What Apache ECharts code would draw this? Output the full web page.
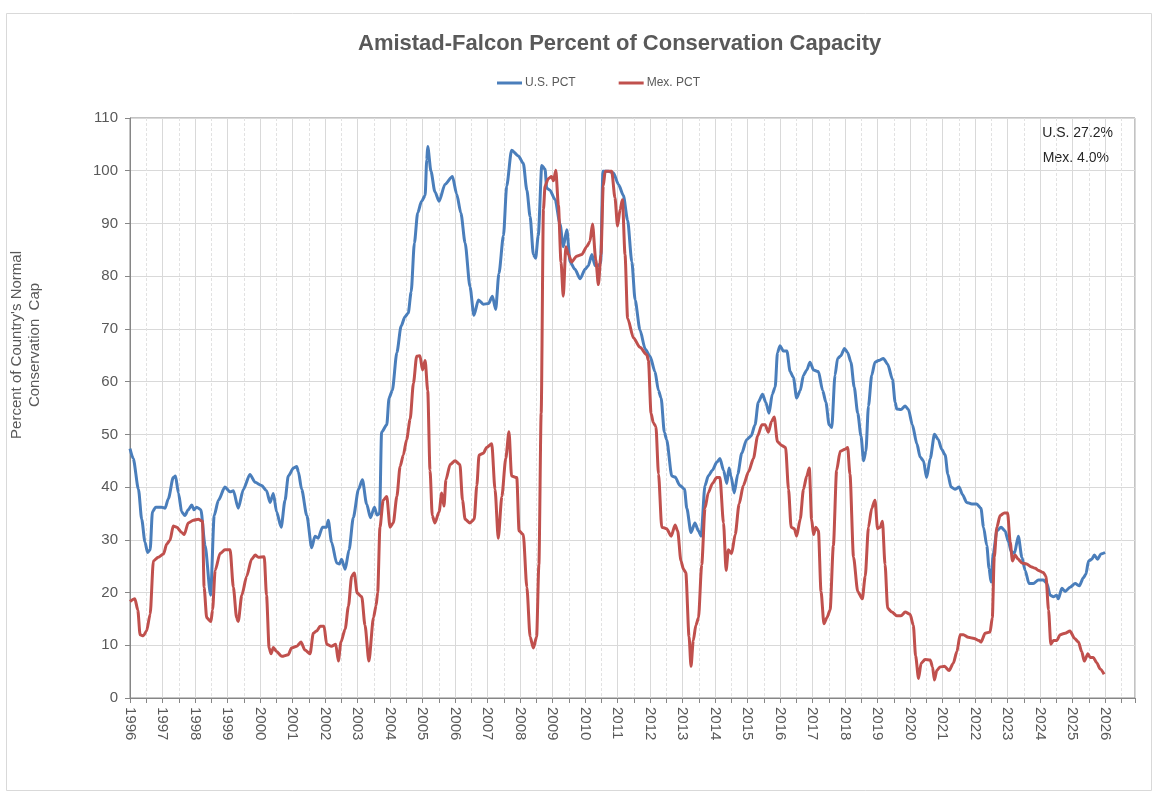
<!DOCTYPE html>
<html>
<head>
<meta charset="utf-8">
<script src="https://cdn.jsdelivr.net/npm/echarts@6/dist/echarts.min.js"></script>
<style>
html,body{margin:0;padding:0;background:#fff;}
#chart{width:1159px;height:796px;}
</style>
</head>
<body>
<div id="chart"></div>
<script>
// ---- Data (decimal year, percent) ----
var usYears = [1996.0,1996.1,1996.26,1996.36,1996.46,1996.54,1996.62,1996.69,1996.79,1996.97,1997.08,1997.18,1997.33,1997.4,1997.49,1997.59,1997.69,1997.79,1997.9,1997.97,1998.05,1998.18,1998.31,1998.48,1998.59,1998.72,1998.92,1999.08,1999.18,1999.33,1999.49,1999.69,1999.85,2000.05,2000.2,2000.31,2000.41,2000.51,2000.65,2000.77,2000.87,2001.03,2001.13,2001.18,2001.28,2001.44,2001.59,2001.69,2001.79,2001.92,2002.05,2002.1,2002.2,2002.36,2002.44,2002.51,2002.62,2002.74,2002.87,2003.03,2003.15,2003.28,2003.4,2003.52,2003.6,2003.68,2003.74,2003.9,2003.97,2004.07,2004.21,2004.34,2004.46,2004.56,2004.65,2004.75,2004.85,2004.97,2005.08,2005.13,2005.16,2005.26,2005.38,2005.51,2005.69,2005.92,2006.05,2006.18,2006.31,2006.46,2006.58,2006.72,2006.87,2007.03,2007.15,2007.25,2007.35,2007.49,2007.59,2007.74,2007.95,2008.1,2008.21,2008.31,2008.41,2008.48,2008.56,2008.67,2008.77,2008.82,2008.92,2009.08,2009.23,2009.33,2009.44,2009.54,2009.69,2009.85,2010.0,2010.1,2010.21,2010.31,2010.41,2010.48,2010.55,2010.72,2010.87,2011.03,2011.18,2011.31,2011.44,2011.54,2011.69,2011.85,2012.0,2012.15,2012.26,2012.34,2012.44,2012.51,2012.67,2012.77,2012.92,2013.06,2013.13,2013.26,2013.38,2013.49,2013.57,2013.69,2013.79,2013.92,2014.05,2014.15,2014.26,2014.36,2014.43,2014.49,2014.59,2014.7,2014.82,2014.97,2015.11,2015.23,2015.33,2015.46,2015.56,2015.66,2015.76,2015.85,2015.92,2016.0,2016.1,2016.21,2016.31,2016.41,2016.51,2016.62,2016.72,2016.82,2016.92,2017.03,2017.18,2017.31,2017.41,2017.51,2017.59,2017.69,2017.77,2017.87,2017.98,2018.08,2018.18,2018.28,2018.39,2018.49,2018.57,2018.64,2018.72,2018.82,2018.92,2019.03,2019.18,2019.31,2019.46,2019.54,2019.59,2019.72,2019.85,2019.95,2020.07,2020.21,2020.31,2020.41,2020.51,2020.62,2020.75,2020.87,2020.97,2021.08,2021.16,2021.26,2021.38,2021.51,2021.61,2021.74,2021.9,2022.05,2022.18,2022.26,2022.36,2022.43,2022.49,2022.56,2022.67,2022.8,2022.92,2023.03,2023.11,2023.21,2023.33,2023.44,2023.54,2023.66,2023.79,2023.95,2024.1,2024.21,2024.31,2024.41,2024.51,2024.56,2024.67,2024.77,2024.92,2025.08,2025.21,2025.33,2025.41,2025.49,2025.59,2025.67,2025.77,2025.87,2026.0];
var usValues = [47.3,45.4,39.6,33.9,29.6,27.6,28.1,35.3,36.2,36.2,36.0,37.8,41.8,42.1,38.9,35.3,34.6,35.7,36.6,35.7,36.2,35.7,28.9,19.5,34.6,37.5,40.0,39.1,39.3,36.0,39.6,42.4,40.9,40.3,39.3,37.1,38.8,35.3,32.4,37.5,42.1,43.6,43.9,42.9,39.6,34.6,28.5,30.7,30.3,32.4,32.4,33.7,29.6,25.6,25.4,26.3,24.4,28.1,34.2,39.6,41.4,36.8,34.2,36.2,34.7,35.0,50.4,51.8,56.9,58.3,65.5,70.5,72.3,73.0,77.0,86.3,92.0,94.2,95.3,102.1,104.6,99.9,96.0,94.2,97.4,98.9,95.6,92.0,86.3,78.0,72.6,75.5,74.7,74.8,76.2,73.7,80.5,87.7,97.1,103.9,102.8,101.4,96.3,91.3,84.1,83.4,87.7,101.0,100.3,96.7,96.3,94.5,89.9,85.6,88.8,82.7,81.3,79.5,81.3,82.0,84.1,82.0,82.0,82.5,99.9,99.9,99.6,97.4,95.3,90.6,82.7,75.5,69.8,66.2,64.8,61.9,58.3,56.9,50.4,49.0,42.1,41.9,40.3,39.6,36.0,31.4,33.2,31.7,30.7,40.3,42.1,43.2,44.7,45.4,43.2,40.7,43.6,42.1,38.9,42.5,46.4,49.0,49.7,51.8,56.1,57.6,56.1,54.0,57.6,59.0,65.5,66.8,65.8,65.8,61.9,60.8,56.9,58.3,61.2,62.2,63.7,62.2,61.9,58.3,56.1,51.8,51.3,61.2,64.4,64.9,66.3,65.5,63.7,59.0,54.0,49.7,45.0,46.8,55.4,61.2,63.7,64.0,64.4,63.3,60.4,56.1,54.8,54.7,55.4,54.7,51.8,48.2,45.7,45.0,41.8,45.4,50.0,49.0,47.2,46.1,42.5,40.0,39.6,40.0,38.6,37.1,36.8,36.8,36.0,32.4,28.9,24.6,22.0,27.4,31.7,32.4,31.7,29.6,27.8,27.4,30.7,26.7,24.2,21.7,21.7,22.4,22.4,21.7,19.5,19.2,19.5,18.8,20.8,20.2,21.0,21.7,21.3,22.8,23.5,26.0,26.3,27.1,26.3,27.3,27.6];

var mexYears = [1996.0,1996.15,1996.24,1996.31,1996.41,1996.51,1996.62,1996.72,1996.87,1997.03,1997.13,1997.23,1997.33,1997.44,1997.59,1997.67,1997.79,1997.95,1998.1,1998.23,1998.28,1998.36,1998.49,1998.54,1998.62,1998.77,1998.92,1999.08,1999.18,1999.28,1999.33,1999.44,1999.59,1999.74,1999.85,1999.95,2000.13,2000.2,2000.28,2000.34,2000.41,2000.51,2000.67,2000.87,2000.97,2001.13,2001.26,2001.38,2001.54,2001.64,2001.74,2001.85,2001.97,2002.05,2002.2,2002.33,2002.41,2002.49,2002.62,2002.72,2002.82,2002.9,2002.99,2003.13,2003.23,2003.35,2003.49,2003.57,2003.62,2003.69,2003.79,2003.9,2004.0,2004.1,2004.21,2004.31,2004.41,2004.51,2004.62,2004.72,2004.82,2004.92,2005.0,2005.08,2005.16,2005.23,2005.3,2005.38,2005.51,2005.59,2005.66,2005.72,2005.85,2006.0,2006.15,2006.23,2006.31,2006.46,2006.59,2006.67,2006.74,2006.87,2006.97,2007.13,2007.23,2007.33,2007.44,2007.56,2007.66,2007.74,2007.9,2007.97,2008.1,2008.21,2008.31,2008.41,2008.51,2008.58,2008.65,2008.72,2008.77,2008.87,2008.97,2009.03,2009.1,2009.18,2009.26,2009.33,2009.41,2009.49,2009.59,2009.74,2009.9,2010.05,2010.15,2010.23,2010.33,2010.41,2010.49,2010.56,2010.62,2010.82,2010.92,2011.0,2011.08,2011.15,2011.23,2011.31,2011.49,2011.69,2011.9,2011.95,2012.03,2012.1,2012.18,2012.26,2012.36,2012.51,2012.65,2012.77,2012.85,2012.95,2013.03,2013.1,2013.2,2013.26,2013.33,2013.41,2013.49,2013.59,2013.69,2013.79,2013.92,2014.05,2014.15,2014.26,2014.34,2014.41,2014.51,2014.62,2014.74,2014.87,2015.03,2015.18,2015.31,2015.44,2015.54,2015.64,2015.74,2015.82,2015.92,2016.05,2016.17,2016.26,2016.34,2016.44,2016.51,2016.62,2016.72,2016.82,2016.9,2016.97,2017.03,2017.1,2017.18,2017.26,2017.35,2017.44,2017.54,2017.64,2017.74,2017.85,2018.0,2018.08,2018.15,2018.26,2018.39,2018.53,2018.62,2018.72,2018.82,2018.92,2019.0,2019.08,2019.15,2019.23,2019.31,2019.44,2019.59,2019.72,2019.85,2020.0,2020.1,2020.17,2020.26,2020.34,2020.46,2020.62,2020.69,2020.75,2020.82,2020.92,2021.06,2021.2,2021.33,2021.44,2021.54,2021.64,2021.79,2021.97,2022.12,2022.18,2022.31,2022.46,2022.53,2022.59,2022.67,2022.77,2022.9,2023.0,2023.08,2023.15,2023.23,2023.33,2023.44,2023.59,2023.72,2023.85,2023.95,2024.1,2024.18,2024.26,2024.33,2024.41,2024.51,2024.62,2024.77,2024.92,2025.06,2025.18,2025.28,2025.36,2025.47,2025.54,2025.64,2025.74,2025.85,2025.97];
var mexValues = [18.3,18.8,16.7,12.0,11.8,12.7,15.9,26.0,26.7,27.3,29.2,29.9,32.6,32.4,31.4,31.0,33.2,33.7,33.9,33.5,21.0,15.2,14.5,16.7,24.2,27.4,28.1,28.1,21.0,15.2,14.5,19.5,23.1,26.3,27.1,26.7,26.8,19.5,9.5,8.4,9.6,8.8,7.9,8.2,9.5,9.8,10.6,9.1,8.4,12.3,12.7,13.6,13.6,10.2,9.8,10.2,7.0,10.6,13.1,17.4,23.1,23.7,19.9,19.2,13.8,7.0,15.2,17.5,20.0,32.4,37.5,38.2,32.4,33.2,38.2,43.9,46.1,49.0,52.9,59.7,64.8,64.9,62.2,64.0,58.3,43.2,34.6,33.2,35.3,38.9,36.4,41.4,44.3,45.0,44.3,37.5,33.9,33.2,33.9,40.3,46.1,46.4,47.5,48.2,39.6,30.3,38.2,45.4,50.5,42.1,41.8,31.7,31.0,21.0,11.6,9.5,11.6,25.3,54.0,92.7,97.1,98.5,98.9,98.1,100.1,93.5,82.7,76.2,85.6,84.1,82.7,83.8,84.1,85.6,86.6,89.9,83.1,78.4,84.1,97.1,99.9,99.9,94.9,89.5,92.7,94.5,84.1,72.0,68.3,66.5,65.1,64.0,54.0,52.2,51.5,42.5,32.4,32.1,30.7,32.8,31.7,26.0,24.4,23.8,11.6,6.0,10.9,13.8,15.2,25.3,36.0,38.9,40.7,41.8,41.8,33.2,24.2,28.1,27.4,31.0,36.8,40.3,42.9,45.4,49.7,51.8,51.8,50.4,52.5,53.3,48.6,47.9,47.5,39.6,32.4,32.1,30.7,33.9,39.6,42.1,43.6,33.9,31.0,32.4,31.7,20.2,14.1,15.2,16.7,28.9,43.2,46.8,47.2,47.5,42.5,26.7,20.2,18.8,23.1,32.4,36.0,37.5,32.1,32.4,33.5,25.3,17.0,16.3,15.6,15.6,16.3,15.9,13.8,8.0,3.7,6.6,7.3,7.2,5.9,3.4,5.2,5.9,6.0,5.2,6.6,8.8,12.0,12.0,11.5,11.3,10.9,10.6,12.3,12.5,15.2,26.7,32.4,34.6,35.1,35.1,29.6,26.0,27.1,26.3,25.6,25.4,24.9,24.6,24.2,23.8,23.1,16.7,10.2,10.9,10.9,12.0,12.3,12.7,11.3,10.6,8.8,7.0,8.4,7.7,7.7,6.7,5.5,4.5];

var seriesNames = ['U.S. PCT', 'Mex. PCT'];
var annotationLines = ['U.S. 27.2%', 'Mex. 4.0%'];
var titleText = 'Amistad-Falcon Percent of Conservation Capacity';
var yAxisTitle = ["Percent of Country's Normal", 'Conservation  Cap'];

function pairs(xs, ys) { return xs.map(function (x, i) { return [x, ys[i]]; }); }

var chart = echarts.init(document.getElementById('chart'), null, { renderer: 'canvas' });
var FONT = 'Liberation Sans, Arial, sans-serif';
var option = {
  backgroundColor: '#ffffff',
  animation: false,
  title: {
    text: titleText,
    left: 353,
    top: 28,
    textStyle: { fontFamily: FONT, fontSize: 22, fontWeight: 'bold', color: '#595959' }
  },
  legend: {
    data: seriesNames,
    left: 492,
    top: 72,
    itemWidth: 25,
    itemHeight: 3,
    itemGap: 43,
    icon: 'rect',
    textStyle: { fontFamily: FONT, fontSize: 12, color: '#595959', padding: [0, 0, 0, -2] }
  },
  grid: {
    left: 130, right: 24, top: 118, bottom: 98,
    show: true, borderColor: '#868686', borderWidth: 1, backgroundColor: 'transparent'
  },
  xAxis: {
    type: 'value',
    min: 1996,
    max: 2026.92,
    interval: 1,
    axisLine: { show: true, lineStyle: { color: '#868686', width: 1 } },
    axisTick: { show: true, length: 5, lineStyle: { color: '#868686' } },
    minorTick: { show: true, splitNumber: 2, length: 5, lineStyle: { color: '#868686' } },
    splitLine: { show: true, lineStyle: { color: '#d9d9d9', width: 1 } },
    minorSplitLine: { show: true, lineStyle: { color: '#e2e2e2', width: 1, type: [3, 2] } },
    axisLabel: {
      rotate: -90,
      margin: 9,
      fontFamily: FONT, fontSize: 15, color: '#595959',
      showMaxLabel: false,
      formatter: function (v) { return Math.abs(v - Math.round(v)) < 1e-6 ? String(Math.round(v)) : ''; }
    }
  },
  yAxis: {
    type: 'value',
    min: 0, max: 110, interval: 10,
    axisLine: { show: true, lineStyle: { color: '#868686', width: 1 } },
    axisTick: { show: true, length: 5, lineStyle: { color: '#868686' } },
    splitLine: { show: true, lineStyle: { color: '#d9d9d9', width: 1 } },
    axisLabel: { margin: 12, fontFamily: FONT, fontSize: 15, color: '#595959' }
  },
  series: [
    {
      name: seriesNames[0], type: 'line', data: pairs(usYears, usValues),
      showSymbol: false, smooth: 0.25, smoothMonotone: 'x',
      lineStyle: { color: '#4a7ebb', width: 3 }, itemStyle: { color: '#4a7ebb' }, z: 3
    },
    {
      name: seriesNames[1], type: 'line', data: pairs(mexYears, mexValues),
      showSymbol: false, smooth: 0.25, smoothMonotone: 'x',
      lineStyle: { color: '#c0504d', width: 3 }, itemStyle: { color: '#c0504d' }, z: 4
    }
  ],
  graphic: [
    { type: 'rect', shape: { x: 6.5, y: 13.5, width: 1145, height: 777 }, style: { fill: 'none', stroke: '#d9d9d9', lineWidth: 1 }, silent: true, z: -10 },
    { type: 'text', right: 46, top: 126, style: { text: annotationLines[0], fontFamily: FONT, fontSize: 14, fill: '#262626' } },
    { type: 'text', right: 50, top: 151, style: { text: annotationLines[1], fontFamily: FONT, fontSize: 14, fill: '#262626' } },
    { type: 'text', x: 17, y: 345, rotation: Math.PI / 2, style: { text: yAxisTitle[0], fontFamily: FONT, fontSize: 15, fill: '#595959', align: 'center', verticalAlign: 'middle' } },
    { type: 'text', x: 35, y: 345, rotation: Math.PI / 2, style: { text: yAxisTitle[1], fontFamily: FONT, fontSize: 15, fill: '#595959', align: 'center', verticalAlign: 'middle' } }
  ]
};
chart.setOption(option);
</script>
</body>
</html>
